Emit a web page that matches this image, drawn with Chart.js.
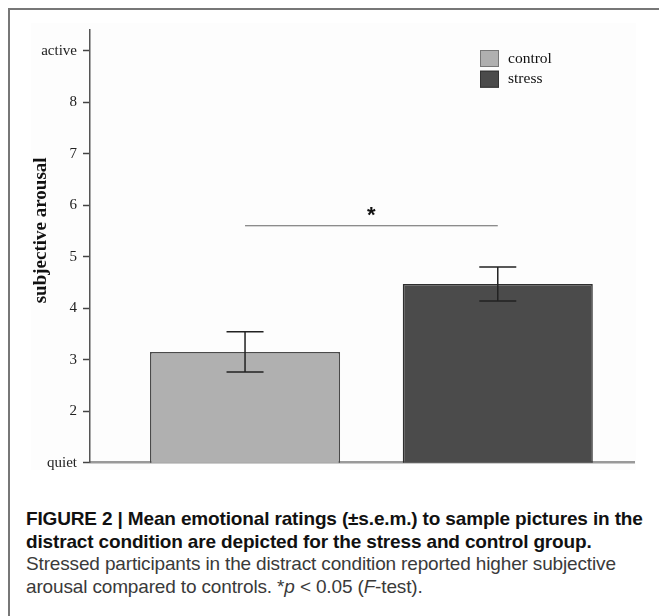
<!DOCTYPE html>
<html>
<head>
<meta charset="utf-8">
<script src="https://cdn.jsdelivr.net/npm/chart.js@4"></script>
<style>
  html, body { margin: 0; padding: 0; background: #ffffff; }
  body { width: 659px; height: 616px; position: relative; overflow: hidden; }
  #frame { position: absolute; left: 8px; top: 8px; width: 700px; height: 700px;
           border-left: 2px solid #777; border-top: 2px solid #777; }
  #plot { position: absolute; left: 31px; top: 23px; width: 605px; height: 447px; background: #fdfdfd; }
  #caption { position: absolute; left: 26px; top: 508px; width: 640px;
             font-family: "Liberation Sans", Arial, sans-serif;
             font-size: 19px; line-height: 22.6px; letter-spacing: -0.15px; color: #222; white-space: nowrap; }
  #caption .b { font-weight: bold; color: #111; }
  #caption .r { color: #3a3a3a; }
</style>
</head>
<body>
<div id="frame"></div>
<div id="plot"><canvas id="c" width="605" height="447"></canvas></div>
<div id="caption">
  <div class="b">FIGURE 2 | Mean emotional ratings (±s.e.m.) to sample pictures in the</div>
  <div class="b">distract condition are depicted for the stress and control group.</div>
  <div class="r">Stressed participants in the distract condition reported higher subjective</div>
  <div class="r">arousal compared to controls. *<i>p</i> &lt; 0.05 (<i>F</i>-test).</div>
</div>
<script>
// ---- data ----
const categories = ['control', 'stress'];
const means = [3.15, 4.47];
const sems = [0.39, 0.33];
const tickValues = [1, 2, 3, 4, 5, 6, 7, 8, 9];
const tickLabels = ['quiet', '2', '3', '4', '5', '6', '7', '8', 'active'];
const sigLevel = 5.6;
const sigLabel = '*';
const yTitle = 'subjective arousal';

const fills = ['#b0b0b0', '#4b4b4b'];
const borders = ['#4a4a4a', '#2e2e2e'];

const overlay = {
  id: 'overlay',
  afterDatasetsDraw(chart) {
    const ctx = chart.ctx;
    const xs = chart.scales.x, ys = chart.scales.y;
    const area = chart.chartArea;
    ctx.save();
    // error bars
    ctx.strokeStyle = '#222';
    ctx.lineWidth = 1.5;
    means.forEach((m, i) => {
      const x = xs.getPixelForValue(i + 1);
      const yt = ys.getPixelForValue(m + sems[i]);
      const yb = ys.getPixelForValue(m - sems[i]);
      const hw = 18.5;
      ctx.beginPath();
      ctx.moveTo(x, yt); ctx.lineTo(x, yb);
      ctx.moveTo(x - hw, yt); ctx.lineTo(x + hw, yt);
      ctx.moveTo(x - hw, yb); ctx.lineTo(x + hw, yb);
      ctx.stroke();
    });
    // significance line
    const ySig = ys.getPixelForValue(sigLevel);
    const x1 = xs.getPixelForValue(1), x2 = xs.getPixelForValue(2);
    ctx.strokeStyle = '#666';
    ctx.lineWidth = 1.2;
    ctx.beginPath();
    ctx.moveTo(x1, ySig); ctx.lineTo(x2, ySig);
    ctx.stroke();
    ctx.fillStyle = '#111';
    ctx.font = 'bold 22px "Liberation Sans", Arial, sans-serif';
    ctx.textAlign = 'center';
    ctx.textBaseline = 'alphabetic';
    ctx.fillText(sigLabel, (x1 + x2) / 2, ySig - 3.5);
    // legend
    const lx = area.left + 390;
    const ly = area.top + 20;
    ctx.font = '15.5px "Liberation Serif", "Times New Roman", serif';
    ctx.textAlign = 'left';
    ctx.textBaseline = 'middle';
    categories.forEach((name, i) => {
      const y = ly + i * 20.7;
      ctx.fillStyle = fills[i];
      ctx.fillRect(lx, y, 19, 17);
      ctx.strokeStyle = i === 0 ? '#777' : '#333';
      ctx.lineWidth = 1;
      ctx.strokeRect(lx + 0.5, y + 0.5, 18, 16);
      ctx.fillStyle = '#111';
      ctx.fillText(name, lx + 28, y + 8.5);
    });
    // y-axis title
    ctx.translate(10, (area.top + area.bottom) / 2 - 16);
    ctx.rotate(-Math.PI / 2);
    ctx.font = 'bold 19px "Liberation Serif", "Times New Roman", serif';
    ctx.textAlign = 'center';
    ctx.textBaseline = 'middle';
    ctx.fillStyle = '#111';
    ctx.fillText(yTitle, 0, 0);
    ctx.restore();
  }
};

new Chart(document.getElementById('c'), {
  type: 'bar',
  data: {
    labels: categories,
    datasets: [{
      label: yTitle,
      data: categories.map((c, i) => ({ x: i + 1, y: means[i] })),
      backgroundColor: fills,
      borderColor: borders,
      borderWidth: 1.5,
      borderSkipped: false,
      categoryPercentage: 1,
      barPercentage: 0.752
    }]
  },
  options: {
    responsive: false,
    animation: false,
    layout: { padding: { top: 7, bottom: 7.3, right: 2, left: 0 } },
    plugins: { legend: { display: false }, tooltip: { enabled: false } },
    scales: {
      x: {
        type: 'linear',
        offset: false,
        min: 0.3866,
        max: 2.539,
        afterBuildTicks(scale) { scale.ticks = categories.map((c, i) => ({ value: i + 1 })); },
        grid: { display: false },
        ticks: { display: false },
        border: { display: true, color: '#9a9a9a', width: 2.5 },
        afterFit(scale) { scale.height = 0; scale.paddingLeft = 0; scale.paddingRight = 0; }
      },
      y: {
        min: 1,
        max: 9.4,
        afterBuildTicks(scale) { scale.ticks = tickValues.map(v => ({ value: v })); },
        afterFit(scale) { scale.width = 59; scale.paddingTop = 0; scale.paddingBottom = 0; },
        grid: { drawOnChartArea: false, drawTicks: true, tickLength: 7, color: '#444', tickWidth: 1.5 },
        border: { display: true, color: '#555', width: 1.5 },
        ticks: {
          padding: 6,
          color: '#222',
          font: { family: '"Liberation Serif", "Times New Roman", serif', size: 15 },
          callback: (v, i) => tickLabels[i]
        },
        title: { display: false }
      }
    }
  },
  plugins: [overlay]
});
</script>
</body>
</html>
